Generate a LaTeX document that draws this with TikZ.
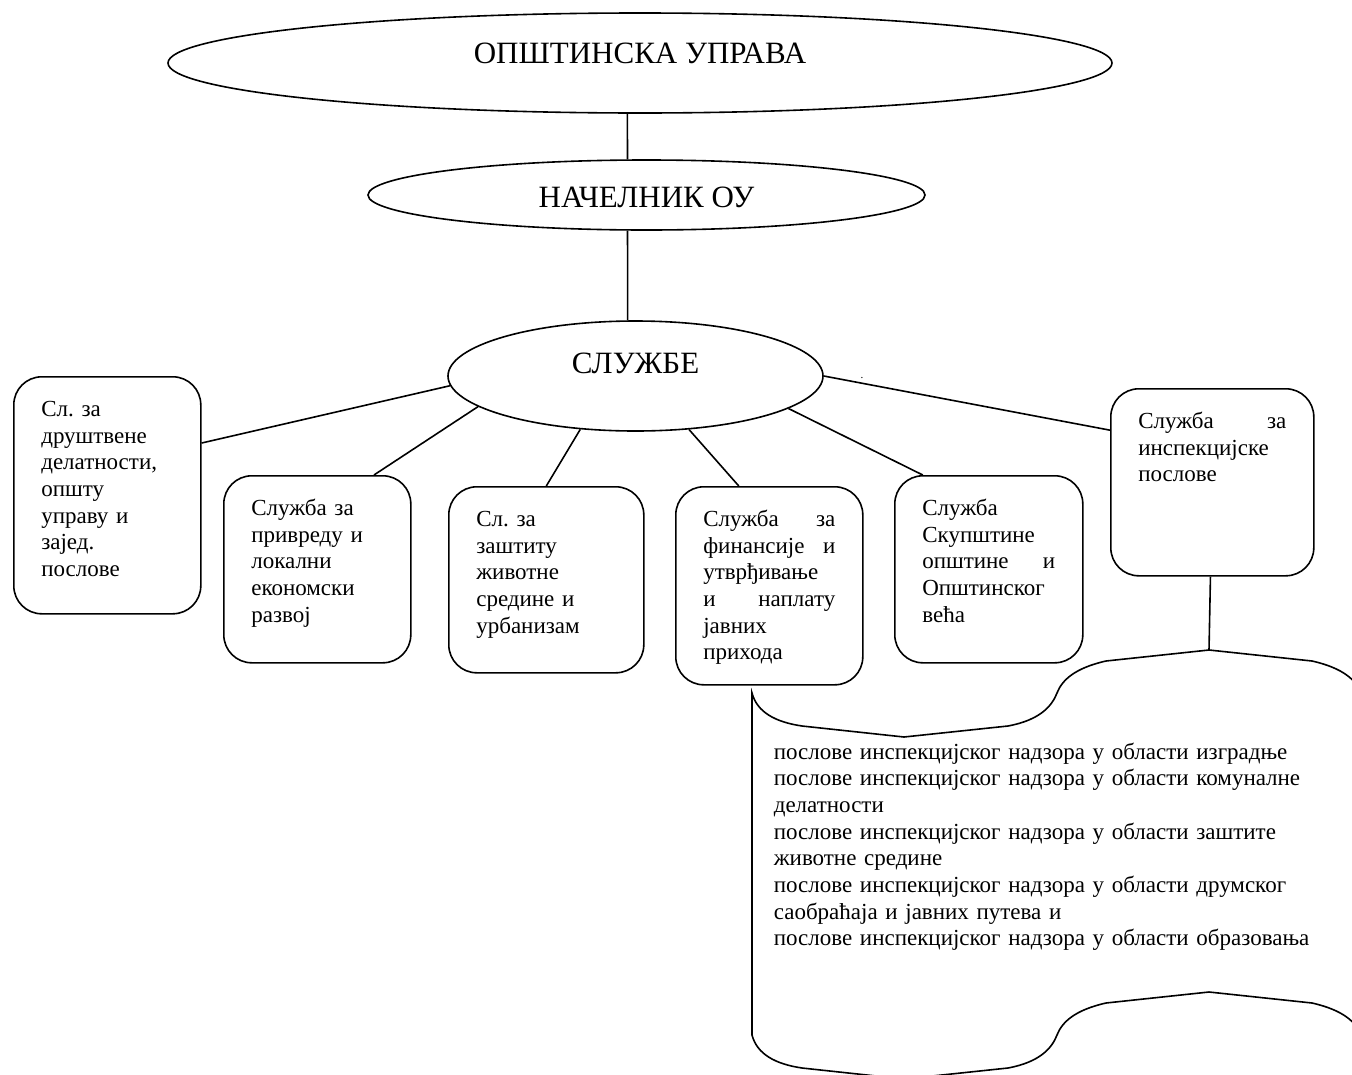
\documentclass[tikz,border=0pt]{standalone}
\usepackage{fontspec}
\setmainfont{Liberation Serif}
\usepackage{tikz}
\usetikzlibrary{shapes.geometric}
\newcommand{\ovaltxt}{\fontsize{31pt}{36pt}\selectfont}
\newcommand{\boxtxt}{\fontsize{23pt}{26.7pt}\selectfont\frenchspacing}

\begin{document}
\begin{tikzpicture}[x=1pt,y=-1pt,line width=1.6pt,
    oval/.style={draw,ellipse,inner sep=0pt,font=\ovaltxt},
    svc/.style={draw,rounded corners=28pt,anchor=north west,inner xsep=27.5pt,inner ysep=0pt,text height=39.5pt,font=\boxtxt}]
    \useasboundingbox (0,0) rectangle (1352,1074);

    \node[oval,minimum width=944pt,minimum height=100pt,text height=20.5pt,text depth=20pt] (upr) at (640,63) {ОПШТИНСКА УПРАВА};
    \node[oval,minimum width=557pt,minimum height=70pt,text height=25.5pt,text depth=0pt] (nach) at (646.5,195) {НАЧЕЛНИК ОУ};
    \node[oval,minimum width=375pt,minimum height=110pt,text height=20.5pt,text depth=25pt] (sl) at (635.5,376) {СЛУЖБЕ};
    \node[font=\fontsize{11pt}{11pt}\selectfont,inner sep=0pt,anchor=base] (dot) at (862,378) {.};

    \node[svc,text width=132pt,text depth=197.5pt,align=left] (b1) at (13,376)
        {Сл. за\\ друштвене\\ делатности,\\ општу\\ управу и\\ зајед.\\ послове};
    \node[svc,text width=132pt,text depth=147.5pt,align=left] (b2) at (223,475)
        {Служба за\\ привреду и\\ локални\\ економски\\ развој};
    \node[svc,text width=140pt,text depth=146.5pt,align=left] (b3) at (448,486)
        {Сл. за\\ заштиту\\ животне\\ средине и\\ урбанизам};
    \node[svc,text width=132pt,text depth=158.5pt,align=justify] (b4) at (675,486)
        {Служба за\linebreak финансије и\linebreak утврђивање\\ и наплату\linebreak јавних\\ прихода};
    \node[svc,text width=133pt,text depth=147.5pt,align=justify] (b5) at (894,475)
        {Служба\\ Скупштине\\ општине и\linebreak Општинског\\ већа};
    \node[svc,text width=148pt,text depth=147.5pt,align=justify] (b6) at (1110,388)
        {Служба за\linebreak инспекцијске\\ послове};

    % inspection tasks
    \coordinate (tapetop) at (1209,650);
    \draw (752,693) .. controls (757,712) and (775,722) .. (802,726) -- (904,737) -- (1008,726)
        .. controls (1040,720) and (1052,706) .. (1057,693) .. controls (1062,680) and (1075,668) .. (1106,661)
        -- (tapetop) -- (1312,661) .. controls (1343,668) and (1356,680) .. (1361,693)
        -- (1361,1035) .. controls (1356,1022) and (1343,1010) .. (1312,1003) -- (1209,992) -- (1106,1003)
        .. controls (1075,1010) and (1062,1022) .. (1057,1035) .. controls (1052,1048) and (1040,1062) .. (1008,1068)
        -- (904,1079) -- (802,1068) .. controls (775,1064) and (757,1054) .. (752,1035) -- cycle;
    \node[font=\boxtxt,inner sep=0pt,text width=560pt,align=left,anchor=base west] (insptxt) at (773,759)
        {послове инспекцијског надзора у области изградње\\
         послове инспекцијског надзора у области комуналне\\
         делатности\\
         послове инспекцијског надзора у области заштите\\
         животне средине\\
         послове инспекцијског надзора у области друмског\\
         саобраћаја и јавних путева и\\
         послове инспекцијског надзора у области образовања};

    \draw (upr.256) -- (nach.118);
    \draw (nach.242) -- (sl.98);
    \draw (sl.183) -- (b1.29);
    \draw (sl.191) -- (b2.59);
    \draw (sl.224) -- (b3.north);
    \draw (sl.315) -- (b4.107);
    \draw (sl.348) -- (b5.125);
    \draw (sl.0) -- (b6.153);
    \draw (b6) -- (tapetop);
\end{tikzpicture}
\end{document}
